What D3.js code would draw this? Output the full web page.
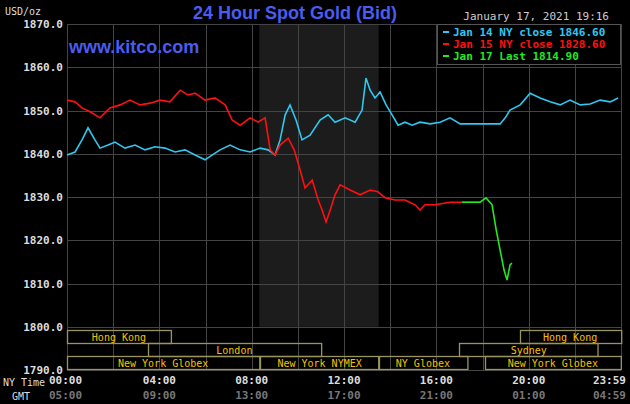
<!DOCTYPE html><html><head><meta charset="utf-8">
<script src="https://cdn.jsdelivr.net/npm/d3@7"></script>
<style>body{margin:0;background:#000}svg{display:block}</style></head><body>
<svg id="c" width="630" height="404"></svg>
<script>
const yTicks=[1790,1800,1810,1820,1830,1840,1850,1860,1870];
const xTicks=[0,4,8,12,16,20,23.983];
const nyLabels=["00:00","04:00","08:00","12:00","16:00","20:00","23:59"];
const gmtLabels=["05:00","09:00","13:00","17:00","21:00","01:00","04:59"];
const legendTexts=["Jan 14 NY close 1846.60","Jan 15 NY close 1828.60","Jan 17 Last 1814.90"];
const blueH=[0,.35,.65,.91,1.21,1.43,1.78,2.08,2.51,2.95,3.38,3.81,4.25,4.68,5.11,5.55,5.98,6.28,6.63,7.06,7.5,7.93,8.36,8.71,9.01,9.23,9.45,9.66,9.92,10.18,10.53,10.96,11.31,11.61,12.05,12.48,12.78,12.95,13.13,13.34,13.56,13.82,14.08,14.34,14.64,14.95,15.29,15.73,16.16,16.59,17.03,17.46,17.89,18.33,18.76,18.98,19.19,19.63,20.06,20.49,20.93,21.36,21.79,22.23,22.66,23.09,23.53,23.87];
const blueV=[1839.7,1840.4,1843.2,1846.0,1843.2,1841.3,1842.0,1842.7,1841.3,1842.0,1840.9,1841.6,1841.3,1840.4,1840.9,1839.7,1838.6,1839.7,1840.9,1842.0,1840.9,1840.4,1841.3,1840.9,1839.7,1843.2,1849.0,1851.3,1847.8,1843.2,1844.3,1847.8,1849.0,1847.3,1848.3,1847.3,1850.1,1857.5,1854.7,1852.9,1854.3,1851.3,1849.0,1846.6,1847.3,1846.6,1847.3,1846.9,1847.3,1848.3,1846.9,1846.9,1846.9,1846.9,1846.9,1848.3,1850.1,1851.3,1854.0,1852.9,1852.0,1851.3,1852.4,1851.3,1851.5,1852.4,1852.0,1852.9];
const redH=[0,.35,.65,1,1.43,1.86,2.3,2.73,3.16,3.6,4.03,4.46,4.9,5.24,5.55,5.98,6.41,6.85,7.15,7.5,7.93,8.28,8.58,8.8,9.01,9.23,9.58,9.84,10.1,10.31,10.62,10.88,11.05,11.22,11.4,11.61,11.83,12.26,12.7,13.13,13.47,13.78,14.21,14.64,15.08,15.29,15.51,15.94,16.59,17.24,17.89];
const redV=[1852.4,1852.0,1850.6,1849.7,1848.3,1850.6,1851.3,1852.4,1851.3,1851.7,1852.4,1852.0,1854.7,1853.6,1854.0,1852.4,1852.9,1851.3,1847.8,1846.6,1848.3,1847.3,1848.3,1840.9,1839.7,1842.0,1843.6,1840.9,1836.2,1832.1,1833.9,1829.3,1827.0,1824.2,1827.0,1830.5,1832.8,1831.6,1830.5,1831.6,1831.2,1829.8,1829.3,1829.3,1828.2,1827.0,1828.2,1828.2,1828.8,1828.8,1828.8];
const greenH=[17.11,17.89,18.15,18.41,18.59,18.76,18.93,19.06,19.19,19.27];
const greenV=[1828.8,1828.8,1829.8,1828.2,1822.4,1817.7,1813.1,1810.8,1814.3,1814.7];
const sessions=[
 {name:"Hong Kong",row:0,s:0,e:4.5},{name:"Hong Kong",row:0,s:19.6,e:23.983},
 {name:"London",row:1,s:3.5,e:11},{name:"Sydney",row:1,s:17,e:23},
 {name:"New York Globex",row:2,s:0,e:8.33},{name:"New York NYMEX",row:2,s:8.38,e:13.5},
 {name:"NY Globex",row:2,s:13.5,e:17.33},{name:"New York Globex",row:2,s:18.1,e:23.983}];
const shade=[8.33,13.5];

const svg=d3.select("#c");
const x=d3.scaleLinear().domain([0,24]).range([67,621.1]);
const y=d3.scaleLinear().domain([1790,1870]).range([370,24]);
const mono="'DejaVu Sans Mono',monospace";
svg.append("rect").attr("width",630).attr("height",404).attr("fill","#000");
svg.append("rect").attr("x",x(shade[0])).attr("y",24).attr("width",x(shade[1])-x(shade[0])).attr("height",y(1800)-24).attr("fill","#1c1c1c");
const g=svg.append("g").attr("stroke","#444").attr("stroke-width",1);
d3.range(0,25,2).forEach(h=>{const xx=Math.round(x(Math.min(h,23.983)))+.5;g.append("line").attr("x1",xx).attr("x2",xx).attr("y1",24).attr("y2",370);});
yTicks.forEach(v=>{const yy=Math.round(y(v))+.5;g.append("line").attr("x1",67).attr("x2",621).attr("y1",yy).attr("y2",yy);});
yTicks.forEach(v=>svg.append("text").attr("x",63).attr("y",y(v)+4).attr("text-anchor","end").attr("fill","#ddd").attr("font-family",mono).attr("font-size",11).attr("font-weight","bold").text(v.toFixed(1)));
svg.append("text").attr("x",5).attr("y",15).attr("fill","#ddd").attr("font-family",mono).attr("font-size",10).text("USD/oz");
const anchors=["start","middle","middle","middle","middle","middle","end"];
xTicks.forEach((h,i)=>{
 const xx=i==0?49:(i==6?626:x(h));
 svg.append("text").attr("x",xx).attr("y",384).attr("text-anchor",anchors[i]).attr("fill","#ddd").attr("font-family",mono).attr("font-size",11).attr("font-weight","bold").text(nyLabels[i]);
 svg.append("text").attr("x",xx).attr("y",399).attr("text-anchor",anchors[i]).attr("fill","#777").attr("font-family",mono).attr("font-size",11).attr("font-weight","bold").text(gmtLabels[i]);
});
svg.append("text").attr("x",3).attr("y",386).attr("fill","#ddd").attr("font-family",mono).attr("font-size",10).text("NY Time");
svg.append("text").attr("x",12).attr("y",400).attr("fill","#ddd").attr("font-family",mono).attr("font-size",10).text("GMT");
const rowY=[330,343,356];
sessions.forEach(s=>{
 const x0=x(s.s),x1=x(s.e);
 svg.append("rect").attr("x",Math.round(x0)+.5).attr("y",rowY[s.row]+.5).attr("width",x1-x0).attr("height",13).attr("fill","none").attr("stroke","#9a9460").attr("stroke-width",1.3);
 svg.append("text").attr("x",(x0+x1)/2).attr("y",rowY[s.row]+11).attr("text-anchor","middle").attr("fill","#f5c000").attr("font-family",mono).attr("font-size",10).text(s.name);
});
const line=d3.line().x(d=>x(d[0])).y(d=>y(d[1]));
const ser=[[blueH,blueV,"#2ec8f0"],[redH,redV,"#ff1010"],[greenH,greenV,"#22e822"]];
ser.forEach(([H,V,c])=>svg.append("path").attr("d",line(H.map((h,i)=>[h,V[i]]))).attr("fill","none").attr("stroke",c).attr("stroke-width",1.6));
svg.append("rect").attr("x",437.5).attr("y",24.5).attr("width",183).attr("height",40).attr("fill","#000").attr("stroke","#555");
const lc=["#2ec8f0","#ff1010","#22e822"];
legendTexts.forEach((t,i)=>{
 svg.append("line").attr("x1",443).attr("x2",449).attr("y1",32+i*12).attr("y2",32+i*12).attr("stroke",lc[i]).attr("stroke-width",2);
 svg.append("text").attr("x",453).attr("y",36+i*12).attr("fill",lc[i]).attr("font-family",mono).attr("font-size",11).attr("font-weight","bold").text(t);
});
svg.append("text").attr("x",609).attr("y",20).attr("text-anchor","end").attr("fill","#ccc").attr("font-family",mono).attr("font-size",11).text("January 17, 2021 19:16");
svg.append("text").attr("x",295).attr("y",19).attr("text-anchor","middle").attr("fill","#4a5cf0").attr("font-family","'Liberation Sans',Arial,sans-serif").attr("font-size",18).attr("font-weight","bold").text("24 Hour Spot Gold (Bid)");
svg.append("text").attr("x",69).attr("y",53).attr("fill","#4a5cf0").attr("font-family","'Liberation Sans',Arial,sans-serif").attr("font-size",18).attr("font-weight","bold").text("www.kitco.com");
</script></body></html>
